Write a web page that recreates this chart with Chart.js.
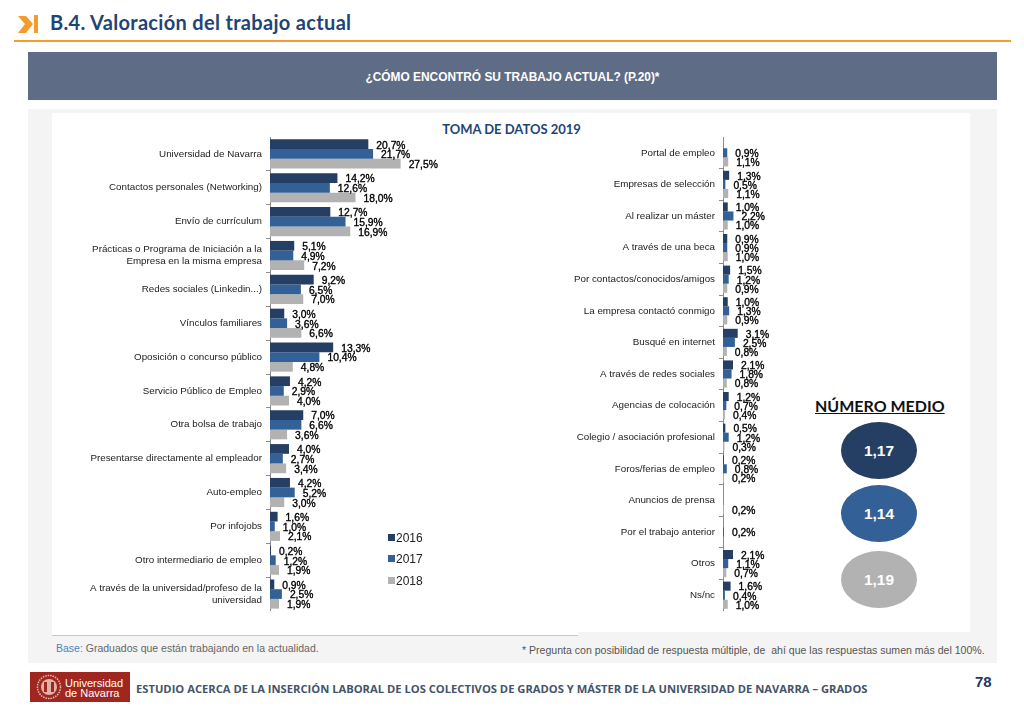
<!DOCTYPE html>
<html>
	<head>
		<meta charset="UTF-8">
		<title>B.4. Valoración del trabajo actual</title>
		<script src="https://cdn.jsdelivr.net/npm/chart.js"></script>
		<style>
			*{margin:0; padding:0; box-sizing:border-box;}
			html,body{width:1024px; height:709px; overflow:hidden; background:#fff;}
			body{position:relative; font-family:"Liberation Sans",sans-serif;}
			.box,.txt,canvas,svg{position:absolute;}
			.txt{white-space:pre; line-height:1;}
			#title{left:50px; top:10px; font:bold 20px Lato,sans-serif; letter-spacing:.32px; color:#1F4477;}
			#orange{left:14px; top:40px; width:997px; height:2px; background:#F39C2C;}
			#band{left:28px; top:52px; width:969px; height:48px; background:#5F6C85;}
			#question{left:28px; top:70px; width:969px; text-align:center; font:bold 11.9px "Liberation Sans",sans-serif; color:#fff;}
			#panel{left:28px; top:109px; width:969px; height:554px; background:#F4F4F4;}
			#white1{left:52px; top:113px; width:918px; height:519px; background:#fff;}
			#white2{left:52px; top:632px; width:526px; height:4px; background:#fff;}
			#baseline{left:52px; top:635px; width:526px; height:1px; background:#C8C8C8;}
			#toma{left:52px; top:121px; width:919px; text-align:center; font:bold 13px Lato,sans-serif; color:#1F4477;}
			#base{left:56px; top:643px; font-size:10.5px; color:#666;}
			#base span{color:#4F81BD;}
			#note{left:522px; top:645px; font-size:10.55px; color:#555;}
			#logo{left:30px; top:672px; width:100px; height:30px; background:#A0271F;}
			#logotxt{left:65px; top:679px; font-size:11px; line-height:9.5px; color:#fff;}
			#foot{left:136px; top:681px; font:bold 11.2px "Open Sans",sans-serif; color:#44546A;}
			#page{left:975px; top:673px; font:bold 15px "Liberation Sans",sans-serif; color:#1F3864;}
			#medio{left:815px; top:396px; font:bold 16px Lato,sans-serif; color:#111; text-decoration:underline;}
			.oval{left:841px; width:76px; height:57px; border-radius:50%; color:#fff; font:bold 15.5px "Liberation Sans",sans-serif; text-align:center; line-height:57px;}
			.swatch{left:388px; width:7px; height:7px;}
			.year{left:396px; font-size:12px; color:#222;}
		</style>
	</head>
	<body>
		<div class="box" id="orange"></div>
		<svg style="left:14px;top:12px" width="24" height="24" viewBox="0 0 24 24">
			<polygon points="4,4 12,4 19,12 12,21 4,21 11,12" fill="#F39C2C"/>
			<rect x="20" y="3" width="4" height="18" fill="#F39C2C"/>
		</svg>
		<div class="txt" id="title">B.4. Valoración del trabajo actual</div>
		<div class="box" id="band"></div>
		<div class="txt" id="question">¿CÓMO ENCONTRÓ SU TRABAJO ACTUAL? (P.20)*</div>
		<div class="box" id="panel"></div>
		<div class="box" id="white1"></div>
		<div class="box" id="white2"></div>
		<div class="box" id="baseline"></div>
		<div class="txt" id="toma">TOMA DE DATOS 2019</div>

		<canvas id="chartLeft" width="400" height="474" style="left:60px;top:137px;"></canvas>
		<canvas id="chartRight" width="220" height="474" style="left:560px;top:137px;"></canvas>

		<div id="legend"></div>
		<div class="txt" id="medio">NÚMERO MEDIO</div>
		<div id="ovals"></div>

		<div class="txt" id="base"><span>Base:</span> Graduados que están trabajando en la actualidad.</div>
		<div class="txt" id="note">* Pregunta con posibilidad de respuesta múltiple, de  ahí que las respuestas sumen más del 100%.</div>
		<div class="box" id="logo"></div>
		<svg style="left:35px;top:674px" width="28" height="26" viewBox="0 0 28 26">
			<circle cx="14" cy="13" r="11.5" fill="none" stroke="#E3BDB5" stroke-width="1.5" stroke-dasharray="1.5 1"/>
			<circle cx="14" cy="13" r="8" fill="#DDB3AA"/>
			<rect x="9" y="8" width="3" height="10" fill="#A0271F"/>
			<rect x="16" y="8" width="3" height="10" fill="#A0271F"/>
		</svg>
		<div class="txt" id="logotxt">Universidad
de Navarra</div>
		<div class="txt" id="foot">ESTUDIO ACERCA DE LA INSERCIÓN LABORAL DE LOS COLECTIVOS DE GRADOS Y MÁSTER DE LA UNIVERSIDAD DE NAVARRA – GRADOS</div>
		<div class="txt" id="page">78</div>

		<script>
			const years = ["2016", "2017", "2018"];
			const colors = ["#243F63", "#336096", "#B2B2B2"];
			const medias = ["1,17", "1,14", "1,19"];

			//left chart
			const catLeft = [
				"Universidad de Navarra",
				"Contactos personales (Networking)",
				"Envío de currículum",
				["Prácticas o Programa de Iniciación a la", "Empresa en la misma empresa"],
				"Redes sociales (Linkedin...)",
				"Vínculos familiares",
				"Oposición o concurso público",
				"Servicio Público de Empleo",
				"Otra bolsa de trabajo",
				"Presentarse directamente al empleador",
				"Auto-empleo",
				"Por infojobs",
				"Otro intermediario de empleo",
				["A través de la universidad/profeso de la", "universidad"]
			];
			const left2016 = [20.7, 14.2, 12.7, 5.1, 9.2, 3.0, 13.3, 4.2, 7.0, 4.0, 4.2, 1.6, 0.2, 0.9];
			const left2017 = [21.7, 12.6, 15.9, 4.9, 6.5, 3.6, 10.4, 2.9, 6.6, 2.7, 5.2, 1.0, 1.2, 2.5];
			const left2018 = [27.5, 18.0, 16.9, 7.2, 7.0, 6.6, 4.8, 4.0, 3.6, 3.4, 3.0, 2.1, 1.9, 1.9];

			//right chart
			const catRight = [
				"Portal de empleo",
				"Empresas de selección",
				"Al realizar un máster",
				"A través de una beca",
				"Por contactos/conocidos/amigos",
				"La empresa contactó conmigo",
				"Busqué en internet",
				"A través de redes sociales",
				"Agencias de colocación",
				"Colegio / asociación profesional",
				"Foros/ferias de empleo",
				"Anuncios de prensa",
				"Por el trabajo anterior",
				"Otros",
				"Ns/nc"
			];
			const right2016 = [null, 1.3, 1.0, 0.9, 1.5, 1.0, 3.1, 2.1, 1.2, 0.5, 0.2, null, null, 2.1, 1.6];
			const right2017 = [0.9, 0.5, 2.2, 0.9, 1.2, 1.3, 2.5, 1.8, 0.7, 1.2, 0.8, null, 0.2, 1.1, 0.4];
			const right2018 = [1.1, 1.1, 1.0, 1.0, 0.9, 0.9, 0.8, 0.8, 0.4, 0.3, 0.2, 0.2, null, 0.7, 1.0];

			//value next to each bar, 8px after its end
			const barLabels = {
				id: "barLabels",
				afterDatasetsDraw(chart) {
					const c = chart.ctx;
					c.save();
					c.font = "10.3px 'Liberation Sans'";
					c.fillStyle = "#000";
					c.strokeStyle = "#000";
					c.lineWidth = 0.35;
					c.textBaseline = "middle";
					chart.data.datasets.forEach(function(ds, d) {
						chart.getDatasetMeta(d).data.forEach(function(bar, i) {
							if (ds.data[i] === null) return;
							const txt = ds.data[i].toFixed(1).replace(".", ",") + "%";
							c.fillText(txt, bar.x + 8, bar.y + 1.5);
							c.strokeText(txt, bar.x + 8, bar.y + 1.5);
						});
					});
					c.restore();
				}
			};

			function makeChart(id, labels, series, axisWidth, maxVal) {
				return new Chart(document.getElementById(id), {
					type: "bar",
					data: {
						labels: labels,
						datasets: series.map(function(s, i) {
							return {
								label: years[i],
								data: s,
								backgroundColor: colors[i],
								categoryPercentage: 0.86,
								barPercentage: 1
							};
						})
					},
					options: {
						indexAxis: "y",
						responsive: false,
						animation: false,
						devicePixelRatio: 1,
						layout: { padding: 0 },
						plugins: { legend: { display: false }, tooltip: { enabled: false } },
						scales: {
							x: { display: false, min: 0, max: maxVal },
							y: {
								afterFit(axis) {
									axis.width = axisWidth;
									//no room kept for first and last label, the axis fills the canvas height
									axis.paddingTop = 0;
									axis.paddingBottom = 0;
								},
								border: { color: "#8C8C8C" },
								grid: { drawOnChartArea: false, tickLength: 4, color: "#8C8C8C" },
								ticks: {
									autoSkip: false,
									padding: 4,
									color: "#222",
									font: { family: "Liberation Sans", size: 9.8, lineHeight: 1.2 }
								}
							}
						}
					},
					plugins: [barLabels]
				});
			}

			makeChart("chartLeft", catLeft, [left2016, left2017, left2018], 210, 40);
			makeChart("chartRight", catRight, [right2016, right2017, right2018], 163, 12);

			//legend and average ovals
			const legendTop = [534, 555, 577];
			const ovalTop = [422, 485, 551];
			let html = "";
			years.forEach(function(y, i) {
				html += '<div class="box swatch" style="top:' + legendTop[i] + 'px;background:' + colors[i] + '"></div>';
				html += '<div class="txt year" style="top:' + (legendTop[i] - 2) + 'px">' + y + '</div>';
			});
			document.getElementById("legend").innerHTML = html;
			html = "";
			medias.forEach(function(m, i) {
				html += '<div class="box oval" style="top:' + ovalTop[i] + 'px;background:' + colors[i] + '">' + m + '</div>';
			});
			document.getElementById("ovals").innerHTML = html;
		</script>
	</body>
</html>
